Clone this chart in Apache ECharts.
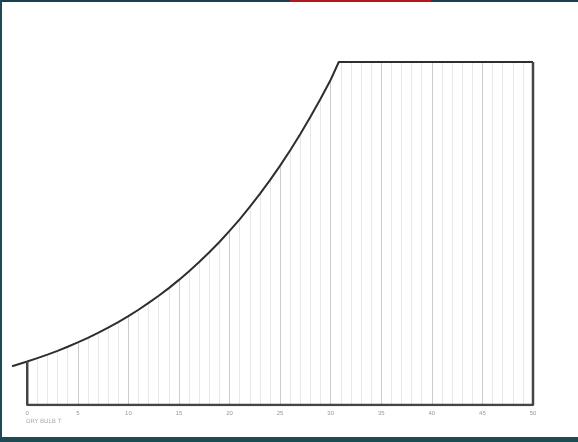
<!DOCTYPE html>
<html>
<head>
<meta charset="utf-8">
<script src="https://cdn.jsdelivr.net/npm/echarts@6/dist/echarts.min.js"></script>
<style>
  html, body { margin: 0; padding: 0; background: #fff; }
  #wrap { position: relative; width: 578px; height: 442px; overflow: hidden; }
  #main { position: absolute; left: 0; top: 0; width: 578px; height: 442px; }
  .frame { position: absolute; background: #1c4a55; }
</style>
</head>
<body>
<div id="wrap">
  <div id="main"></div>
  <div class="frame" style="left:0;top:0;width:578px;height:2px;background:#183f50"></div>
  <div class="frame" style="left:0;top:0;width:2px;height:442px"></div>
  <div class="frame" style="left:0;top:437px;width:578px;height:5px"></div>
  <div style="position:absolute;left:290px;top:0;width:141px;height:2px;background:#b3161b"></div>
</div>
<script>
// dry bulb temperature (°C) along the saturation curve
const temps = [-1.5, 0, 1, 2, 3, 4, 5, 6, 7, 8, 9, 10, 11, 12, 13, 14, 15, 16, 17, 18, 19,
  20, 21, 22, 23, 24, 25, 26, 27, 28, 29, 30, 30.8, 50];
// humidity ratio (g/kg), flat cap after ~31°C
const humidity = [3.3, 3.7, 3.99, 4.29, 4.61, 4.96, 5.33, 5.72, 6.14, 6.58, 7.06, 7.57, 8.11, 8.69,
  9.3, 9.95, 10.65, 11.39, 12.17, 13.0, 13.88, 14.82, 15.81, 16.86, 17.97, 19.14, 20.38, 21.69,
  23.07, 24.53, 26.07, 27.69, 29.2, 29.2];
const labelTicks = [0, 5, 10, 15, 20, 25, 30, 35, 40, 45, 50];
const tempMin = -2;
const tempMax = 50;
const topValue = 29.2;

const curve = temps.map((t, i) => [t, humidity[i]]);
const hAt0 = humidity[temps.indexOf(0)];
const outline = [[0, hAt0], [0, 0], [tempMax, 0], [tempMax, topValue]];

const myChart = echarts.init(document.getElementById('main'));
myChart.setOption({
  animation: false,
  grid: { left: 7, right: 45, top: 62, bottom: 37 },
  xAxis: {
    type: 'value',
    min: tempMin,
    max: tempMax,
    interval: 1,
    axisLine: { show: false },
    axisTick: { show: false },
    axisLabel: {
      fontSize: 6,
      color: '#999',
      margin: 5,
      formatter: v => (labelTicks.indexOf(v) >= 0 ? String(v) : '')
    },
    splitLine: {
      show: true,
      lineStyle: { width: 1, color: ['#e8e8e8', '#e8e8e8', '#cccccc', '#e8e8e8', '#e8e8e8'] }
    }
  },
  yAxis: {
    type: 'value',
    min: 0,
    max: topValue,
    show: false,
    splitLine: { show: false }
  },
  graphic: [
    {
      type: 'text',
      left: 26,
      top: 418,
      style: { text: 'DRY BULB T', fontSize: 6, fill: '#aaa', fontFamily: 'DejaVu Sans' }
    }
  ],
  series: [
    {
      // white fill above the curve hides the grid lines there
      type: 'line',
      data: curve,
      symbol: 'none',
      silent: true,
      z: 2,
      lineStyle: { opacity: 0 },
      areaStyle: { origin: 'end', color: '#fff', opacity: 1 },
      markArea: {
        silent: true,
        itemStyle: { color: '#fff' },
        data: [[{ xAxis: tempMin }, { xAxis: 0 }]]
      }
    },
    {
      type: 'line',
      data: curve,
      symbol: 'none',
      silent: true,
      z: 5,
      lineStyle: { color: '#2e2e2e', width: 2 }
    },
    {
      type: 'line',
      data: outline,
      symbol: 'none',
      silent: true,
      z: 5,
      lineStyle: { color: '#444', width: 2.5 }
    }
  ]
});
</script>
</body>
</html>
